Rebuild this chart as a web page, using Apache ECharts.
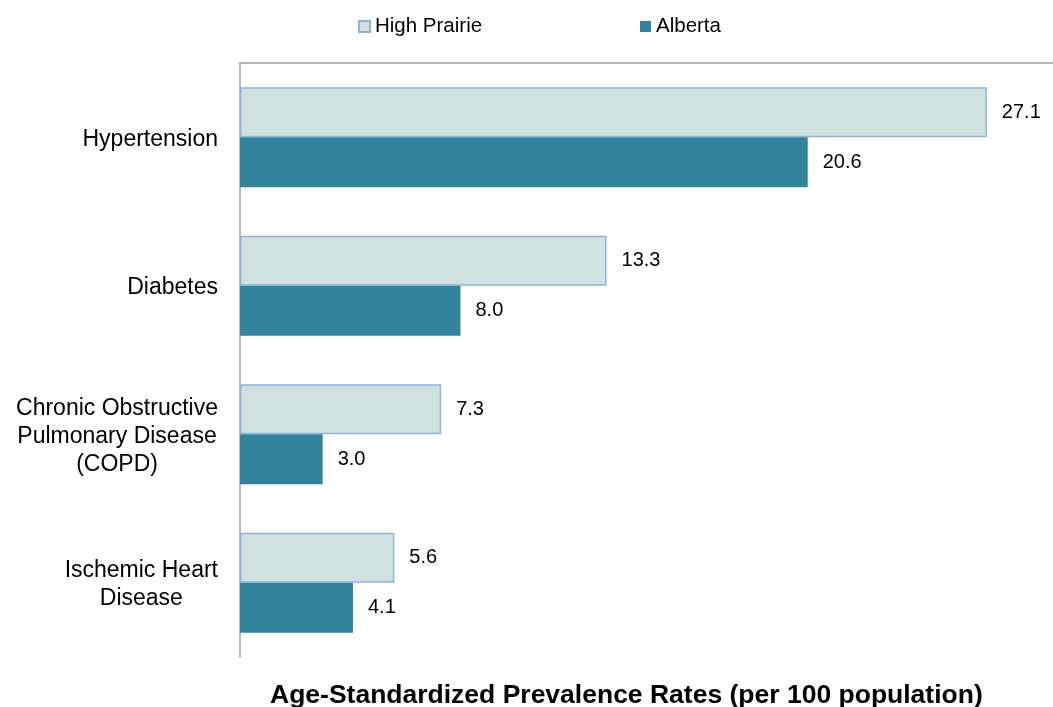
<!DOCTYPE html>
<html>
<head>
<meta charset="utf-8">
<script src="https://cdn.jsdelivr.net/npm/echarts@6/dist/echarts.min.js"></script>
<style>html,body{margin:0;padding:0;background:#fff;}#c{width:1053px;height:707px;}</style>
</head>
<body>
<div id="c"></div>
<script>
const categories = ['Hypertension', 'Diabetes', 'Chronic Obstructive\nPulmonary Disease\n(COPD)', 'Ischemic Heart\nDisease'];
const seriesNames = ['High Prairie', 'Alberta'];
const highPrairie = [27.1, 13.3, 7.3, 5.6];
const alberta = [20.6, 8.0, 3.0, 4.1];
const axisTitle = 'Age-Standardized Prevalence Rates (per 100 population)';

const chart = echarts.init(document.getElementById('c'), null, {renderer: 'canvas'});
const font = 'Liberation Sans, Arial, sans-serif';
const labelCfg = {
  show: true, position: 'right', distance: 15, color: '#000', fontSize: 20, fontFamily: font,
  formatter: p => Number(p.value).toFixed(1)
};
chart.setOption({
  animation: false,
  backgroundColor: '#fff',
  title: {
    text: axisTitle, left: 265, top: 677,
    textStyle: {fontFamily: font, fontSize: 26.5, fontWeight: 'bold', color: '#000'}
  },
  legend: [
    {data: [seriesNames[0]], left: 353, top: 11, icon: 'rect', itemWidth: 11, itemHeight: 11, itemGap: 0,
     textStyle: {fontFamily: font, fontSize: 20.5, color: '#000'}},
    {data: [seriesNames[1]], left: 635, top: 11, icon: 'rect', itemWidth: 11, itemHeight: 11, itemGap: 0,
     textStyle: {fontFamily: font, fontSize: 20.5, color: '#000'}}
  ],
  grid: {left: 240, right: 0, top: 63, bottom: 50, containLabel: false},
  xAxis: {
    type: 'value', min: 0, max: 29.5, position: 'top',
    axisLine: {show: true, lineStyle: {color: '#A0A0A0', width: 1.5}},
    axisTick: {show: false}, axisLabel: {show: false}, splitLine: {show: false}
  },
  yAxis: {
    type: 'category', data: categories, inverse: true,
    axisLine: {show: true, lineStyle: {color: '#A0A0A0', width: 1.5}},
    axisTick: {show: false},
    axisLabel: {
      margin: 22, fontFamily: font, fontSize: 23, color: '#000', lineHeight: 28,
      formatter: v => v.split('\n').map(l => '{c|' + l + '}').join('\n'),
      rich: {c: {align: 'center', fontFamily: font, fontSize: 23, color: '#000', lineHeight: 28, padding: [4, 0, 0, 0]}}
    }
  },
  series: [
    {name: seriesNames[0], type: 'bar', data: highPrairie, barWidth: 50, barGap: '0%',
     itemStyle: {color: '#D0E2E0', borderColor: '#8DB3E2', borderWidth: 1.5}, label: labelCfg},
    {name: seriesNames[1], type: 'bar', data: alberta, barWidth: 50, barGap: '0%',
     itemStyle: {color: '#31849B'}, label: labelCfg}
  ]
});
</script>
</body>
</html>
